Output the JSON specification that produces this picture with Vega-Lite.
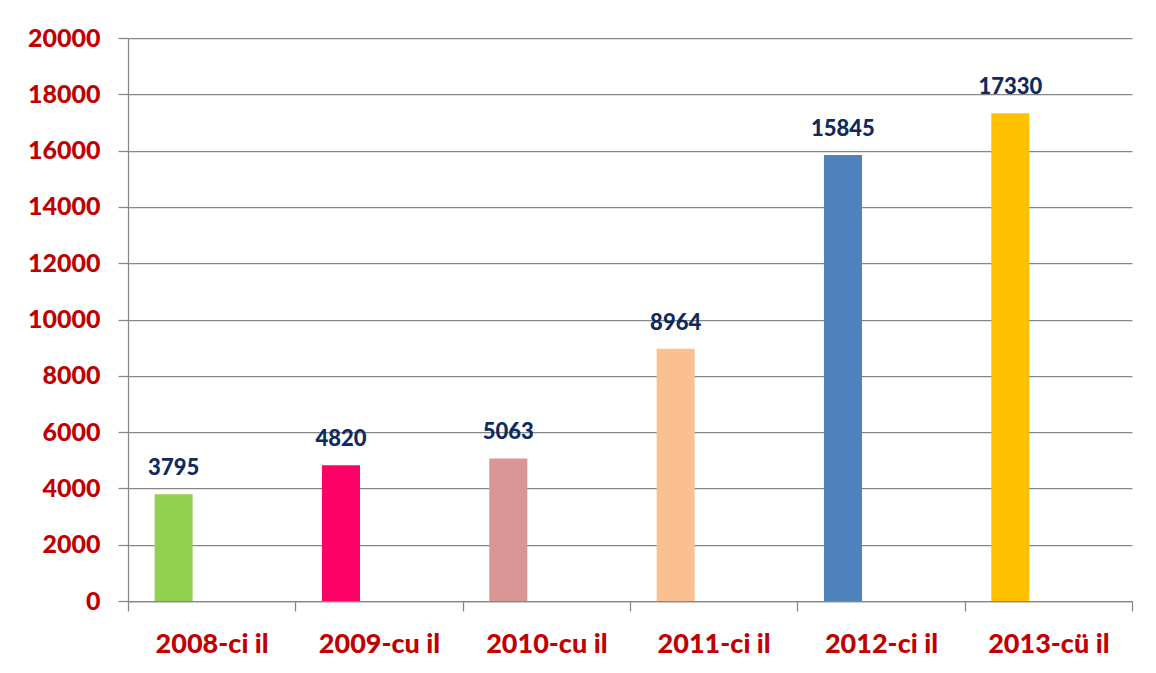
{
  "$schema": "https://vega.github.io/schema/vega-lite/v6.json",
  "width": 1004,
  "height": 563,
  "autosize": {"type": "none"},
  "padding": {"left": 128, "top": 38, "right": 24, "bottom": 72},
  "background": "white",
  "config": {"view": {"stroke": null}, "font": "Lato"},
  "data": {
    "values": [
      {"year": "2008-ci il", "value": 3795, "series": "A"},
      {"year": "2009-cu il", "value": 4820, "series": "A"},
      {"year": "2010-cu il", "value": 5063, "series": "A"},
      {"year": "2011-ci il", "value": 8964, "series": "A"},
      {"year": "2012-ci il", "value": 15845, "series": "A"},
      {"year": "2013-cü il", "value": 17330, "series": "A"}
    ]
  },
  "encoding": {
    "x": {
      "field": "year",
      "type": "nominal",
      "sort": null,
      "scale": {"paddingInner": 0, "paddingOuter": 0},
      "axis": {
        "title": null,
        "labelAngle": 0,
        "tickBand": "extent",
        "tickSize": 10,
        "tickColor": "#868686",
        "tickWidth": 1.25,
        "domainColor": "#868686",
        "domainWidth": 1.25,
        "labelFont": "Lato",
        "labelFontWeight": 900,
        "labelFontSize": 27,
        "labelColor": "#C00000",
        "labelPadding": 20,
        "grid": false
      }
    },
    "xOffset": {
      "field": "series",
      "type": "nominal",
      "scale": {"domain": ["A", "B", "C"], "paddingInner": 0, "paddingOuter": 0.7}
    },
    "y": {
      "field": "value",
      "type": "quantitative",
      "scale": {"domain": [0, 20000], "nice": false},
      "axis": {
        "title": null,
        "format": "d",
        "values": [0, 2000, 4000, 6000, 8000, 10000, 12000, 14000, 16000, 18000, 20000],
        "grid": true,
        "gridColor": "#868686",
        "gridWidth": 1.25,
        "domainColor": "#868686",
        "domainWidth": 1.25,
        "tickColor": "#868686",
        "tickWidth": 1.25,
        "tickSize": 10,
        "labelFont": "Lato",
        "labelFontWeight": 900,
        "labelFontSize": 25,
        "labelColor": "#C00000",
        "labelPadding": 18
      }
    }
  },
  "layer": [
    {
      "mark": {"type": "bar"},
      "encoding": {
        "color": {
          "field": "year",
          "type": "nominal",
          "sort": null,
          "scale": {
            "domain": ["2008-ci il", "2009-cu il", "2010-cu il", "2011-ci il", "2012-ci il", "2013-cü il"],
            "range": ["#92D050", "#FF0066", "#D99694", "#FAC090", "#4F81BD", "#FFC000"]
          },
          "legend": null
        }
      }
    },
    {
      "mark": {
        "type": "text",
        "baseline": "alphabetic",
        "dy": -19,
        "font": "Lato",
        "fontWeight": 900,
        "fontSize": 22,
        "color": "#0E2A5E"
      },
      "encoding": {"text": {"field": "value", "type": "quantitative", "format": "d"}}
    }
  ]
}
